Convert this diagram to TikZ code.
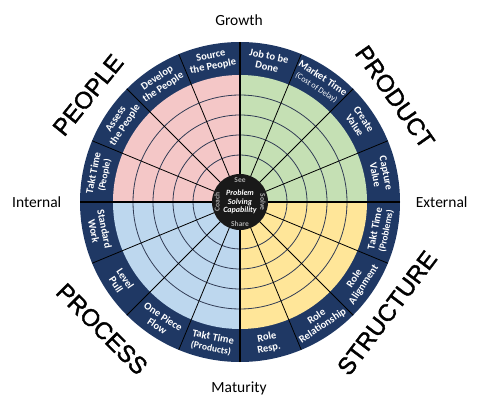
\documentclass[tikz,border=0pt]{standalone}
\usepackage{fontspec}
\setmainfont{Carlito}
\newfontfamily\bigfont[FakeBold=1.6]{Liberation Sans}
\definecolor{navy}{RGB}{31,56,100}
\definecolor{pinkq}{RGB}{244,199,199}
\definecolor{greenq}{RGB}{197,224,180}
\definecolor{yellowq}{RGB}{255,230,153}
\definecolor{blueq}{RGB}{189,215,238}
\definecolor{ringc}{RGB}{50,60,85}
\definecolor{hubc}{RGB}{25,25,25}
\definecolor{hubtxt}{RGB}{170,170,170}
\newcommand\parfont{\fontsize{9.5}{10.5}\selectfont}
\newcommand\costfont{\fontsize{8.2}{9}\selectfont\mdseries}
\tikzset{
  seglabel/.style={text=white, align=center, inner sep=0pt,
    font=\fontsize{10.5}{11}\selectfont\bfseries},
  axislabel/.style={font=\fontsize{15.5}{18}\selectfont, anchor=base, inner sep=0pt},
  biglabel/.style={font=\bigfont\fontsize{24}{28}\selectfont, inner sep=0pt},
  hublabel/.style={text=hubtxt, font=\fontsize{7.5}{8}\selectfont\bfseries, inner sep=0pt},
  ring/.style={draw=ringc, line width=0.8pt},
  spoke/.style={draw=black, line width=0.8pt},
  axisline/.style={draw=black, line width=2.2pt}
}
\begin{document}
\begin{tikzpicture}[x=1pt,y=1pt]
\useasboundingbox (0,0) rectangle (487,410);
\begin{scope}[shift={(240,208)}]
  \fill[navy] (0,0) circle[radius=160];
  \fill[greenq] (0,0) -- (0:127) arc[start angle=0,end angle=90,radius=127] -- cycle;
  \fill[pinkq] (0,0) -- (90:127) arc[start angle=90,end angle=180,radius=127] -- cycle;
  \fill[blueq] (0,0) -- (180:127) arc[start angle=180,end angle=270,radius=127] -- cycle;
  \fill[yellowq] (0,0) -- (270:127) arc[start angle=270,end angle=360,radius=127] -- cycle;
  \foreach \r in {47,67,87,107}
    \draw[ring] (0,0) circle[radius=\r];
  \foreach \a in {22.5,45,67.5,112.5,135,157.5,202.5,225,247.5,292.5,315,337.5}
    \draw[spoke] (0,0) -- (\a:160);
  \draw[axisline] (-160,0) -- (160,0);
  \draw[axisline] (0,-160) -- (0,160);
  \fill[hubc] (0,0) circle[radius=28];
  \node[text=white, align=center, inner sep=0pt,
        font=\fontsize{8}{8.3}\selectfont\bfseries\itshape] (hub) at (0,0)
        {Problem\\Solving\\Capability};
  \node[hublabel] (see) at (0,22) {See};
  \node[hublabel] (share) at (0,-22) {Share};
  \node[hublabel, rotate=90] (coach) at (-23,0) {Coach};
  \node[hublabel, rotate=-90] (solve) at (23,0) {Solve};
  \foreach \a/\t [count=\i] in {
      78.75/{Job to be\\Done},
      56.25/{Market Time\\{\costfont (Cost of Delay)}},
      33.75/{Create\\Value},
      11.25/{Capture\\Value},
      348.75/{Takt Time\\{\parfont (Problems)}},
      326.25/{Role\\Alignment},
      303.75/{Role\\Relationship},
      281.25/{Role\\Resp.},
      258.75/{Takt Time\\{\parfont (Products)}},
      236.25/{One Piece\\Flow},
      213.75/{Level\\Pull},
      191.25/{Standard\\Work},
      168.75/{Takt Time\\{\parfont (People)}},
      146.25/{Assess\\the People},
      123.75/{Develop\\the People},
      101.25/{Source\\the People}}{
    \pgfmathsetmacro\rot{\a<180 ? \a-90 : \a+90}
    \node[seglabel, rotate=\rot] (seg\i) at (\a:143.5) {\t};
  }
\end{scope}
\node[axislabel] (growth) at (239,384.3) {Growth};
\node[axislabel] (maturity) at (239,17.5) {Maturity};
\node[axislabel] (internal) at (36.7,202.7) {Internal};
\node[axislabel] (external) at (441.7,202.7) {External};
\node[biglabel, rotate=51] (people) at (88,315) {PEOPLE};
\node[biglabel, rotate=-55] (product) at (395,313) {PRODUCT};
\node[biglabel, rotate=-45] (process) at (102,81) {PROCESS};
\node[biglabel, rotate=53] (structure) at (387,97) {STRUCTURE};
\end{tikzpicture}
\end{document}
